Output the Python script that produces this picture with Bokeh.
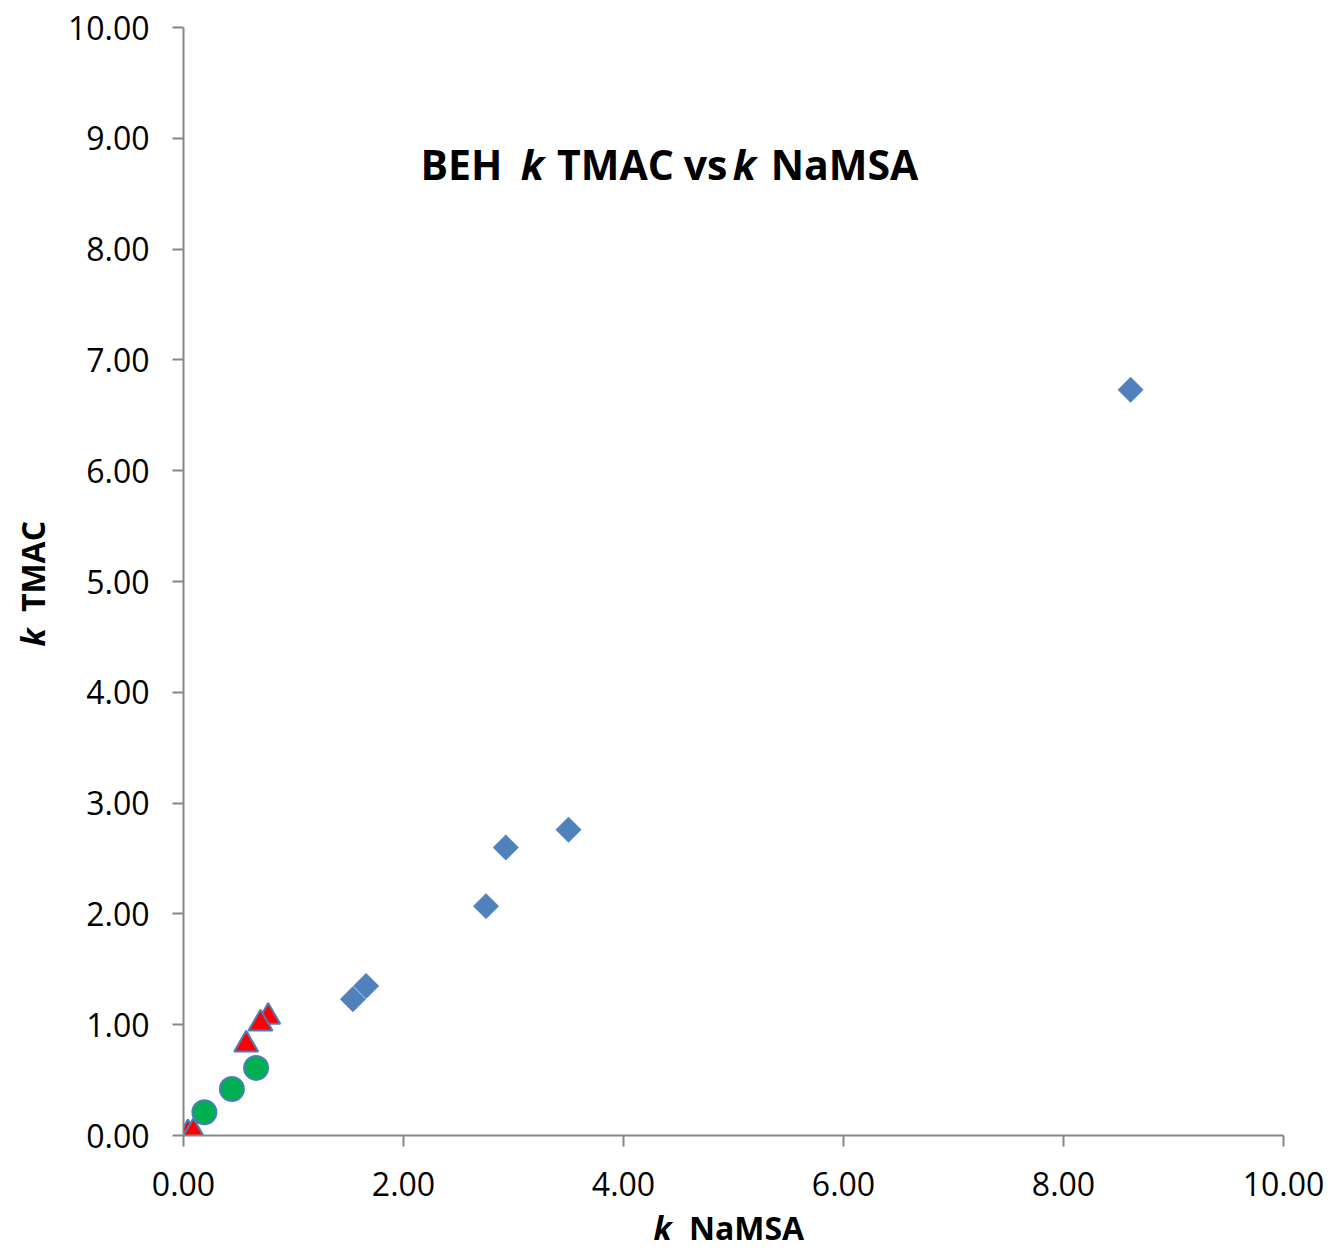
import math
from bokeh.plotting import figure
from bokeh.models import (Range1d, FixedTicker, NumeralTickFormatter, Label,
                          LinearAxis, CustomJSTickFormatter)
from bokeh.embed import file_html
from bokeh.resources import INLINE

# ---- data ----
beh_x = [1.54, 1.66, 2.75, 2.93, 3.50, 8.61]
beh_y = [1.23, 1.35, 2.07, 2.60, 2.76, 6.73]

circ_x = [0.19, 0.44, 0.66]
circ_y = [0.21, 0.42, 0.61]

tri_x = [0.04, 0.09, 0.57, 0.77, 0.70]
tri_y = [0.02, 0.03, 0.82, 1.07, 1.01]

x_ticks = [0, 2, 4, 6, 8, 10]
y_ticks = [0, 1, 2, 3, 4, 5, 6, 7, 8, 9, 10]

BLUE = "#4F81BD"
OUTLINE = "#4A7EBB"
GREEN = "#00B050"
RED = "#FF0000"
AXIS = "#868686"
FONT = "Open Sans"

W, H = 1332, 1260
F_LEFT, F_RIGHT, F_TOP, F_BOTTOM = 183, 1283, 27, 1135

p = figure(width=W, height=H, output_backend="svg", toolbar_location=None,
           x_range=Range1d(0, 10), y_range=Range1d(0, 10),
           min_border_left=F_LEFT, min_border_right=W - F_RIGHT,
           min_border_top=F_TOP, min_border_bottom=H - F_BOTTOM)
p.outline_line_color = None
p.xgrid.visible = False
p.ygrid.visible = False


def X(px):
    return (px - F_LEFT) / (F_RIGHT - F_LEFT) * 10.0


def Y(py):
    return (F_BOTTOM - py) / (F_BOTTOM - F_TOP) * 10.0


for ax, ticks in ((p.xaxis[0], x_ticks), (p.yaxis[0], y_ticks)):
    ax.ticker = FixedTicker(ticks=ticks)
    ax.formatter = NumeralTickFormatter(format="0.00")
    ax.axis_line_color = AXIS
    ax.axis_line_width = 2
    ax.major_tick_line_color = AXIS
    ax.major_tick_line_width = 2
    ax.major_tick_out = 11
    ax.major_tick_in = 0
    ax.minor_tick_line_color = None
    ax.minor_tick_out = 0
    ax.major_label_text_font = FONT
    ax.major_label_text_font_size = "32px"
    ax.major_label_text_color = "black"
p.yaxis[0].major_label_standoff = 23
p.xaxis[0].major_label_standoff = 25

# series
p.scatter(beh_x, beh_y, marker="square", size=18, angle=math.pi / 4,
          fill_color=BLUE, line_color=BLUE, line_width=0.5)
p.scatter(circ_x, circ_y, marker="circle", size=24,
          fill_color=GREEN, line_color=OUTLINE, line_width=2)
p.scatter(tri_x, tri_y, marker="triangle", size=24,
          fill_color=RED, line_color=OUTLINE, line_width=2)


# title (inside the frame)
def lab(x, y, text, size, style):
    p.add_layout(Label(x=x, y=y, text=text, text_font=FONT, text_font_size=size,
                       text_font_style=style, text_color="black",
                       text_align="center", text_baseline="alphabetic"))


TS = "41px"
TB = Y(163)
lab(X(461), TB, "BEH", TS, "bold")
lab(X(532), TB, "k", TS, "bold italic")
lab(X(615), TB, "TMAC", TS, "bold")
lab(X(705), TB, "vs", TS, "bold")
lab(X(744), TB, "k", TS, "bold italic")
lab(X(844), TB, "NaMSA", TS, "bold")


# axis titles: built from label-only axes so they sit outside the frame
AS = "32px"


def text_axis(side, pos, text, style, standoff):
    ax = LinearAxis(ticker=FixedTicker(ticks=[pos]),
                    formatter=CustomJSTickFormatter(code="return %r" % text))
    ax.axis_line_color = None
    ax.major_tick_line_color = None
    ax.minor_tick_line_color = None
    ax.major_tick_out = 0
    ax.major_tick_in = 0
    ax.minor_tick_out = 0
    ax.minor_tick_in = 0
    ax.major_label_text_font = FONT
    ax.major_label_text_font_size = AS
    ax.major_label_text_font_style = style
    ax.major_label_text_color = "black"
    ax.major_label_standoff = standoff
    if side == "left":
        ax.major_label_orientation = "parallel"
    p.add_layout(ax, side)


ROW_BACK = -46
text_axis("below", X(662), "k", "bold italic", 7)
text_axis("below", X(746), "NaMSA", "bold", ROW_BACK)
text_axis("left", Y(637), "k", "bold italic", 11)
text_axis("left", Y(566), "TMAC", "bold", ROW_BACK)

open("out.html", "w").write(file_html(p, INLINE))
